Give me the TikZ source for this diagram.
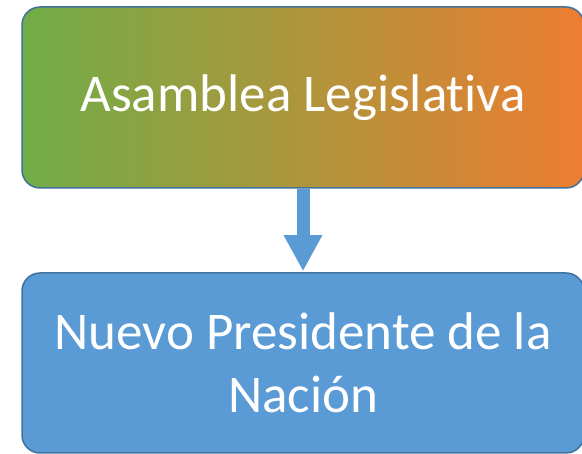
\documentclass[tikz,border=0pt]{standalone}
\usepackage{fontspec}
\setmainfont[Ligatures=NoCommon]{Carlito}
\usetikzlibrary{arrows.meta}
\definecolor{cgreen}{HTML}{70AD47}
\definecolor{corange}{HTML}{ED7D31}
\definecolor{cblue}{HTML}{5B9BD5}
\definecolor{cborder}{HTML}{41719C}
\tikzset{
  boxstyle/.style={draw=cborder, line width=1.5pt, rounded corners=18pt, minimum width=562pt, inner sep=0pt, text=white, align=center, font=\fontsize{53}{63}\selectfont},
  flowarrow/.style={draw=cblue, line width=13pt, -{Triangle[width=36pt,length=36pt]}, shorten >=1pt}
}
\begin{document}
\begin{tikzpicture}[x=1pt,y=1pt]
\useasboundingbox (0,0) rectangle (582,454);
\node[boxstyle, left color=cgreen, right color=corange, minimum height=181pt] (top) at (303,356.5) {\raisebox{-4pt}{Asamblea Legislativa}};
\node[boxstyle, fill=cblue, minimum height=180pt] (bot) at (303,91) {Nuevo Presidente de la\\Nación};
\draw[flowarrow] (top.south) -- (bot.north);
\end{tikzpicture}
\end{document}
